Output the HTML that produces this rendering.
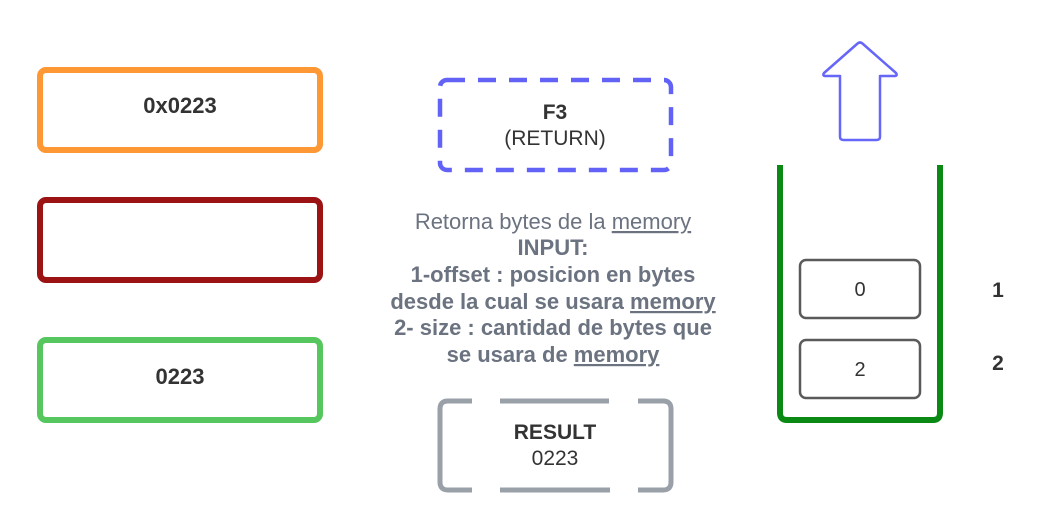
<!DOCTYPE html>
<html><head><meta charset="utf-8"><style>
html,body{margin:0;padding:0;background:#fff;}
svg{display:block;}
text{font-family:"Liberation Sans",Arial,sans-serif;}
</style></head><body>
<svg width="1056" height="531" viewBox="0 0 1056 531" xmlns="http://www.w3.org/2000/svg">
<rect x="40" y="70" width="280" height="80" rx="6" fill="none" stroke="#fd9834" stroke-width="6"/>
<text x="180" y="113" text-anchor="middle" font-size="22" font-weight="bold" fill="#333">0x0223</text>
<rect x="40" y="200" width="280" height="80" rx="6" fill="none" stroke="#9b1313" stroke-width="6"/>
<rect x="40" y="340" width="280" height="80" rx="6" fill="none" stroke="#56c75e" stroke-width="6"/>
<text x="180" y="384" text-anchor="middle" font-size="22" font-weight="bold" fill="#333">0223</text>

<rect x="440" y="80" width="231" height="90" rx="7" fill="none" stroke="#6262f6" stroke-width="4.5" stroke-dasharray="18 13"/>
<text x="555" y="119" text-anchor="middle" font-size="21" font-weight="bold" fill="#333">F3</text>
<text x="555" y="145" text-anchor="middle" font-size="21" fill="#333">(RETURN)</text>

<g font-size="22" fill="#6b7280" text-anchor="middle">
<text x="553" y="229">Retorna bytes de la <tspan text-decoration="underline">memory</tspan></text>
<text x="553" y="255" font-weight="bold">INPUT:</text>
<text x="553" y="282" font-weight="bold">1-offset : posicion en bytes</text>
<text x="553" y="309" font-weight="bold">desde la cual se usara <tspan text-decoration="underline">memory</tspan></text>
<text x="553" y="335" font-weight="bold">2- size : cantidad de bytes que</text>
<text x="553" y="362" font-weight="bold">se usara de <tspan text-decoration="underline">memory</tspan></text>
</g>

<path d="M472 401 H448 Q440 401 440 409 V482 Q440 490 448 490 H472 M500 401 H609 M500 490 H610 M638 401 H663 Q671 401 671 409 V482 Q671 490 663 490 H638" fill="none" stroke="#9aa0a8" stroke-width="5"/>
<text x="555" y="439" text-anchor="middle" font-size="21" font-weight="bold" fill="#333">RESULT</text>
<text x="555" y="465" text-anchor="middle" font-size="21" fill="#333">0223</text>

<path d="M857 44 Q860 41 863 44 L896 73 Q898 76 894 76 H880 V137 Q880 140 876 140 H844 Q840 140 840 137 V76 H826 Q822 76 824 73 Z" fill="none" stroke="#6666f8" stroke-width="2.5" stroke-linejoin="round"/>

<path d="M780 165 V413 Q780 420 787 420 H933 Q940 420 940 413 V165" fill="none" stroke="#0a8a14" stroke-width="6"/>
<rect x="800" y="260" width="120" height="58" rx="6" fill="none" stroke="#5a5a5a" stroke-width="2.5"/>
<text x="860" y="296" text-anchor="middle" font-size="20" fill="#333">0</text>
<rect x="800" y="340" width="120" height="58" rx="6" fill="none" stroke="#5a5a5a" stroke-width="2.5"/>
<text x="860" y="376" text-anchor="middle" font-size="20" fill="#333">2</text>
<text x="998" y="297" text-anchor="middle" font-size="21" font-weight="bold" fill="#333">1</text>
<text x="998" y="370" text-anchor="middle" font-size="21" font-weight="bold" fill="#333">2</text>
</svg>
</body></html>
